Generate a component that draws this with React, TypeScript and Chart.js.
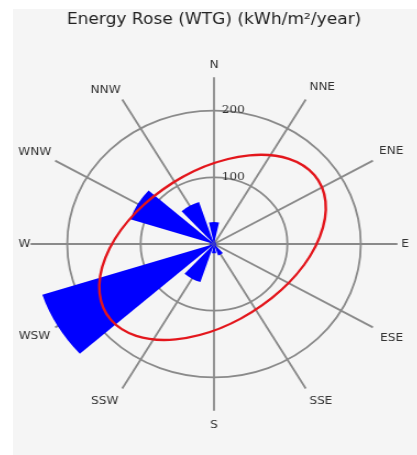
import React, { useEffect, useRef } from 'react';
import { Chart, registerables } from 'chart.js';

Chart.register(...registerables);

// ---- data ----
const directions = ['N', 'NNE', 'ENE', 'E', 'ESE', 'SSE', 'S', 'SSW', 'WSW', 'W', 'WNW', 'NNW'];
const energy = [33, 4, 3, 3, 4, 18, 14, 60, 246, 6, 120, 66]; // kWh/m²/year per sector
const tickValues = [100, 200];
const scaleMax = 250;
const sectorSpanDeg = 24; // drawn width of each 30° sector
// fitted red curve (kWh/m²/year units, east / north offsets)
const ellipseCenterEast = -2;
const ellipseCenterNorth = -5;
const ellipseSemiMajor = 176;
const ellipseSemiMinor = 110;
const ellipseTiltDeg = 38; // major axis angle above east
const titleText = 'Energy Rose (WTG) (kWh/m\u00b2/year)';

// label offsets (px) per direction
const labelPadding = [0, 1, 1, -2, 2, 1, 2, 1.5, -0.5, -5.5, -1.5, -2.5];

// build polar-area elements: a leading offset so every wedge is centred on its direction
const sectorStep = 360 / directions.length;
const arcValues: number[] = [0];
const arcAngles: number[] = [360 - sectorSpanDeg / 2];
energy.forEach((v, i) => {
  arcValues.push(v);
  arcAngles.push(sectorSpanDeg);
  if (i < energy.length - 1) {
    arcValues.push(0);
    arcAngles.push(sectorStep - sectorSpanDeg);
  }
});

const ellipsePlugin = {
  id: 'fitEllipse',
  afterDraw(chart: any) {
    const s = chart.scales.r;
    const k = s.getDistanceFromCenterForValue(100) / 100;
    const ctx = chart.ctx;
    ctx.save();
    ctx.beginPath();
    ctx.ellipse(
      s.xCenter + ellipseCenterEast * k,
      s.yCenter - ellipseCenterNorth * k,
      ellipseSemiMajor * k,
      ellipseSemiMinor * k,
      (-ellipseTiltDeg * Math.PI) / 180,
      0,
      Math.PI * 2
    );
    ctx.strokeStyle = '#e3161c';
    ctx.lineWidth = 2.4;
    ctx.stroke();
    ctx.restore();
  },
};

export default function App() {
  const ref = useRef<HTMLCanvasElement | null>(null);

  useEffect(() => {
    if (!ref.current) return;
    const chart = new Chart(ref.current, {
      type: 'polarArea',
      data: {
        labels: directions,
        datasets: [
          {
            data: arcValues,
            angle: (c: any) => arcAngles[c.dataIndex],
            backgroundColor: '#0000ff',
            borderWidth: 0,
          } as any,
        ],
      },
      options: {
        responsive: false,
        animation: false,
        layout: { padding: { top: 0, bottom: 22.5, left: 0, right: 0 } },
        plugins: {
          legend: { display: false },
          tooltip: { enabled: false },
          title: {
            display: true,
            text: titleText,
            color: '#222',
            font: { family: 'DejaVu Sans', size: 15.5, weight: 'normal' },
            padding: { top: 2, bottom: 27.9 },
          },
        },
        scales: {
          r: {
            min: 0,
            max: scaleMax,
            startAngle: 0,
            afterBuildTicks: (scale: any) => {
              scale.ticks = scale.ticks.filter((t: any) => t.value === 0 || tickValues.includes(t.value));
            },
            ticks: {
              stepSize: 100,
              z: 1,
              showLabelBackdrop: false,
              backdropPadding: 0,
              color: '#333',
              font: { family: 'DejaVu Serif', size: 11 },
              callback: (v: any) => (tickValues.includes(v) ? ' '.repeat(10) + v : ''),
            },
            grid: { circular: true, color: '#8a8a8a', lineWidth: 1.8 },
            angleLines: { display: true, color: '#8a8a8a', lineWidth: 1.8 },
            pointLabels: {
              display: true,
              color: '#333',
              font: { family: 'DejaVu Sans', size: 11 },
              padding: (c: any) => labelPadding[c.index],
            },
          } as any,
        },
      },
      plugins: [ellipsePlugin],
    });
    return () => chart.destroy();
  }, []);

  return (
    <div style={{ position: 'absolute', left: 0, top: 0, width: 417, height: 455, overflow: 'hidden' }}>
      <div style={{ position: 'absolute', left: 13, top: 9, width: 404, height: 446, background: '#f5f5f5' }} />
      <div
        style={{
          position: 'absolute',
          left: -17.5,
          top: 9,
          width: 420,
          height: 446,
          transform: 'scaleX(1.1)',
          transformOrigin: '0 0',
        }}
      >
        <canvas ref={ref} width={420} height={446} />
      </div>
    </div>
  );
}
